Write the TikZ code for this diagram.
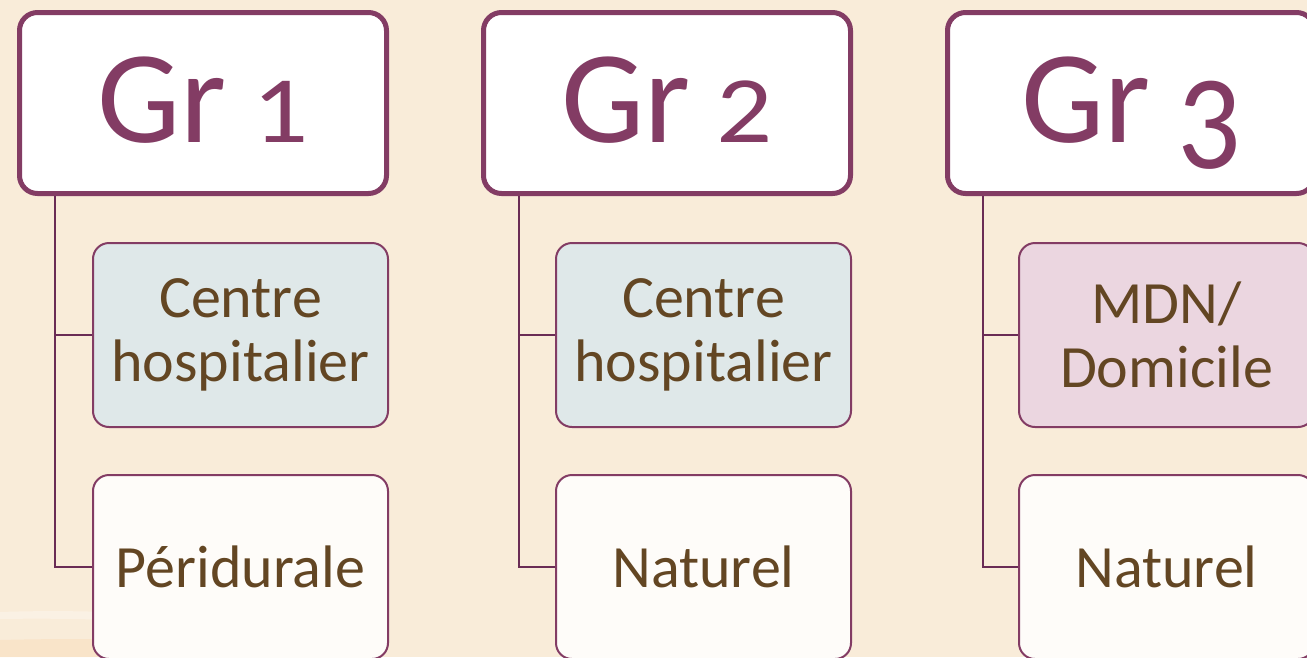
\documentclass[tikz,border=0pt]{standalone}
\usepackage{fontspec}
\setmainfont{Carlito}
\definecolor{bg}{HTML}{F9ECD9}
\definecolor{plum}{HTML}{833C64}
\definecolor{plumdark}{HTML}{6A2C55}
\definecolor{brownt}{HTML}{634623}
\definecolor{bluef}{HTML}{DFE8E9}
\definecolor{pinkf}{HTML}{EBD6E0}
\definecolor{whitef}{HTML}{FEFCF9}
\tikzset{
  grbox/.style={draw=plum, line width=5pt, fill=white, rounded corners=18pt,
    minimum width=367pt, minimum height=181pt, inner sep=0pt,
    font=\fontsize{132}{132}\selectfont, text=plum},
  subbox/.style={draw=plum, line width=2pt, rounded corners=16pt,
    minimum width=295pt, minimum height=184pt, inner sep=0pt, align=center,
    font=\fontsize{60}{64}\selectfont, text=brownt},
  conn/.style={draw=plumdark, line width=2.2pt},
}
\newcommand{\smalldigit}[1]{\scalebox{0.84}[0.72]{#1}}
\newcommand{\lowdigit}[1]{\raisebox{-26pt}[0pt][0pt]{\scalebox{0.95}[1.02]{#1}}}
\begin{document}
\begin{tikzpicture}[x=1pt,y=-1pt]
\fill[bg] (0,0) rectangle (1307,657);
\useasboundingbox (0,0) rectangle (1307,657);
% faint background streaks
\fill[white, opacity=0.3] (0,612) .. controls (120,608) and (220,618) .. (330,632) -- (330,636) .. controls (220,625) and (120,617) .. (0,619) -- cycle;
\fill[orange!18!bg, opacity=0.4] (0,640) .. controls (120,637) and (220,641) .. (330,652) -- (330,657) -- (0,657) -- cycle;
% headers
\node[grbox] (g1) at (203,103) {\raisebox{6pt}{Gr\hspace{0.2em}\smalldigit{1}}};
\node[grbox] (g2) at (667,103) {\raisebox{6pt}{Gr\hspace{0.2em}\smalldigit{2}}};
\node[grbox] (g3) at (1131,103) {\raisebox{6pt}{Gr\hspace{0.2em}\lowdigit{3}}};
% children
\node[subbox, fill=bluef] (a1) at (240.5,335) {Centre\\hospitalier};
\node[subbox, fill=whitef] (b1) at (240.5,567) {Péridurale};
\node[subbox, fill=bluef] (a2) at (703.5,335) {Centre\\hospitalier};
\node[subbox, fill=whitef] (b2) at (703.5,567) {Naturel};
\node[subbox, fill=pinkf] (a3) at (1166.5,335) {MDN/\\Domicile};
\node[subbox, fill=whitef] (b3) at (1166.5,567) {Naturel};
% connectors
\foreach \g/\a/\b in {g1/a1/b1, g2/a2/b2, g3/a3/b3}{
  \coordinate (\g top) at ([xshift=38pt]\g.south west);
  \draw[conn] (\g top) |- (\b.west);
  \draw[conn] (\g top) |- (\a.west);
}
\end{tikzpicture}
\end{document}
